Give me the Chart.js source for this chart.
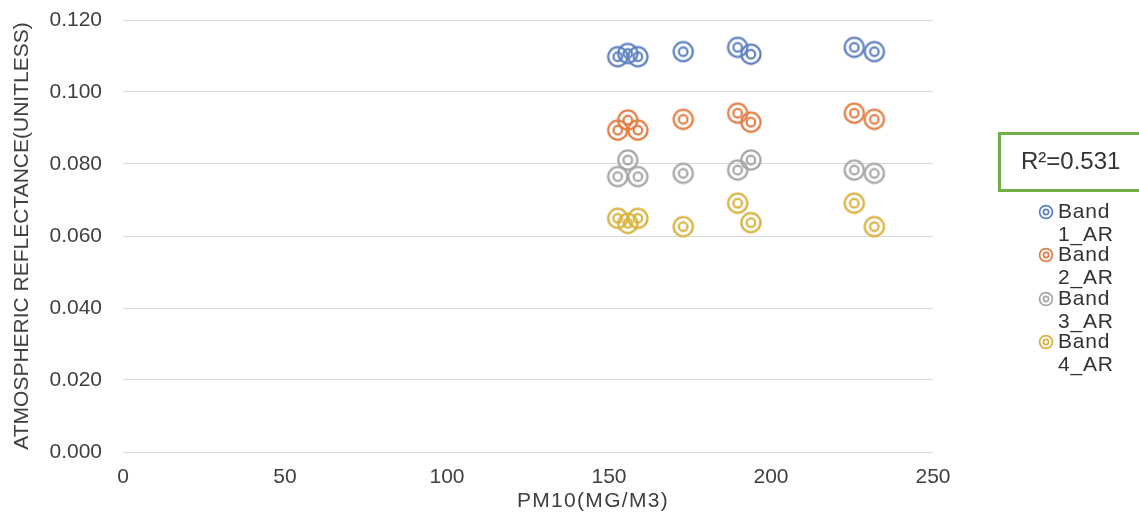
<!DOCTYPE html>
<html>
<head>
<meta charset="utf-8">
<title>PM10 vs Atmospheric Reflectance</title>
<script src="https://cdn.jsdelivr.net/npm/chart.js"></script>
<style>
  body { margin: 0; background: #fff; overflow: hidden; font-family: "Liberation Sans", Arial, sans-serif; color: #404040; }
  #wrap { position: relative; width: 1139px; height: 513px; }
  #r2 { position: absolute; left: 998px; top: 132px; width: 170px; height: 60px; box-sizing: border-box;
        border: 3px solid #70ad47; font-size: 24px; line-height: 52px; padding-left: 20px; color: #333; }
  #xtitle { position: absolute; left: 593px; top: 500px; transform: translate(-50%, -50%);
            font-size: 21px; letter-spacing: 1.3px; color: #404040; white-space: nowrap; }
  .item { position: absolute; left: 1038px; }
  .item svg { position: absolute; left: 0; top: 4px; }
  .item div { position: absolute; left: 20px; top: -1px; font-size: 21px; line-height: 23px; letter-spacing: 0.8px;
              color: #333; white-space: nowrap; }
</style>
</head>
<body>
<div id="wrap">
  <canvas id="chart" width="1139" height="513"></canvas>
  <div id="xtitle">PM10(MG/M3)</div>
  <div id="r2">R²=0.531</div>
  <div id="legend"></div>
</div>
<script>
// values
const pm10 = [152.7, 155.8, 158.9, 172.9, 189.7, 193.8, 225.7, 231.9];
const band1 = [0.1098, 0.1107, 0.1098, 0.1112, 0.1124, 0.1105, 0.1124, 0.1112];
const band2 = [0.0894, 0.0922, 0.0894, 0.0924, 0.0941, 0.0916, 0.0941, 0.0924];
const band3 = [0.0765, 0.0811, 0.0765, 0.0774, 0.0783, 0.0811, 0.0783, 0.0774];
const band4 = [0.0649, 0.0635, 0.0649, 0.0626, 0.0691, 0.0637, 0.0691, 0.0626];
const seriesNames = ["Band 1_AR", "Band 2_AR", "Band 3_AR", "Band 4_AR"];
const seriesColors = ["#5d7fc1", "#e27c42", "#a6a6a6", "#d9b13b"];
const yTicks = [0, 0.02, 0.04, 0.06, 0.08, 0.1, 0.12];
const xTicks = [0, 50, 100, 150, 200, 250];

// double ring marker like the excel one
function ring(color) {
  const c = document.createElement("canvas");
  c.width = 26; c.height = 26;
  const g = c.getContext("2d");
  g.strokeStyle = color;
  g.lineWidth = 2.2;
  g.beginPath(); g.arc(13, 13, 9.6, 0, Math.PI * 2); g.stroke();
  g.beginPath(); g.arc(13, 13, 4.3, 0, Math.PI * 2); g.stroke();
  return c;
}

const allBands = [band1, band2, band3, band4];
const datasets = allBands.map((vals, i) => ({
  label: seriesNames[i],
  data: pm10.map((x, j) => ({ x: x, y: vals[j] })),
  pointStyle: ring(seriesColors[i]),
  borderColor: seriesColors[i],
  backgroundColor: seriesColors[i],
}));

const tickFont = { family: "'Liberation Sans', Arial, sans-serif", size: 21 };

new Chart(document.getElementById("chart"), {
  type: "scatter",
  data: { datasets: datasets },
  options: {
    responsive: false,
    animation: false,
    events: [],
    layout: { padding: { left: 0, top: 20, right: 206, bottom: 0 } },
    plugins: { legend: { display: false }, tooltip: { enabled: false } },
    scales: {
      x: {
        type: "linear",
        min: 0, max: 250,
        afterBuildTicks: (s) => { s.ticks = xTicks.map(v => ({ value: v })); },
        afterFit: (s) => { s.height = 61; s.paddingLeft = 0; s.paddingRight = 0; },
        grid: { display: false },
        border: { display: false },
        ticks: { padding: 5, color: "#404040", font: tickFont, maxRotation: 0 }
      },
      y: {
        type: "linear",
        min: 0, max: 0.12,
        afterBuildTicks: (s) => { s.ticks = yTicks.map(v => ({ value: v })); },
        afterFit: (s) => { s.width = 123; s.paddingTop = 0; s.paddingBottom = 0; },
        grid: { color: "#d9d9d9", lineWidth: 1, drawTicks: false },
        border: { display: false },
        ticks: { padding: 21, color: "#404040", font: tickFont, callback: (v) => v.toFixed(3) },
        title: { display: true, text: "ATMOSPHERIC REFLECTANCE(UNITLESS)", color: "#404040",
                 font: { family: tickFont.family, size: 21 }, padding: { top: 10, bottom: 0 } }
      }
    }
  }
});

// legend, names wrap onto two lines like the original
const legend = document.getElementById("legend");
seriesNames.forEach((name, i) => {
  const parts = name.split(" ");
  const el = document.createElement("div");
  el.className = "item";
  el.style.top = (200 + i * 43.3) + "px";
  el.innerHTML =
    '<svg width="16" height="16"><circle cx="8" cy="8" r="6.4" fill="none" stroke="' + seriesColors[i] + '" stroke-width="1.7"/>' +
    '<circle cx="8" cy="8" r="2.6" fill="none" stroke="' + seriesColors[i] + '" stroke-width="1.7"/></svg>' +
    '<div>' + parts[0] + '<br>' + parts[1] + '</div>';
  legend.appendChild(el);
});
</script>
</body>
</html>
